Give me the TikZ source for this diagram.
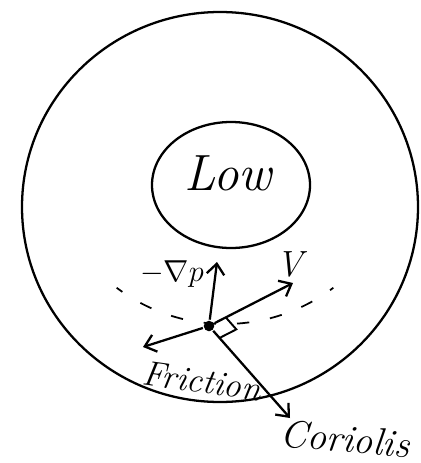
\documentclass[tikz,border=0pt]{standalone}
\usetikzlibrary{calc,arrows.meta}

\begin{document}
\begin{tikzpicture}[
    x=0.02cm, y=-0.02cm,
    line width=1.3pt,
    force/.style={-{Straight Barb[length=6pt,width=10pt]}}, % hand drawn heads
    lab/.style={font=\huge\itshape, inner sep=1pt}
]
\useasboundingbox (0,0) rectangle (420,463);

% outer circulation and the low
\draw (220,207) ellipse [x radius=198, y radius=195];
\draw (231,185) ellipse [x radius=79, y radius=63];
\node[lab, font=\fontsize{29}{32}\selectfont\itshape] (low) at (228,173) {Low};

% isobar through the parcel
\draw[line width=1pt, dash pattern=on 7pt off 12pt, dash phase=3pt]
    (225,144) ++(127:180) arc [start angle=127, end angle=53, radius=180];

% parcel and the forces on it
\node[circle, fill, inner sep=0pt, minimum size=6pt] (parcel) at (209,326) {};
\coordinate (pgrad) at (217,262);
\coordinate (vel)   at (293,283);
\coordinate (fric)  at (143,347);
\coordinate (cor)   at (290,418);

\draw[force] (parcel) -- (pgrad);
\draw[force] (parcel) -- (vel);
\draw[force] (parcel) -- (fric);
\draw[force] (parcel) -- (cor);

% right angle between V and Coriolis
\draw[line width=1.1pt]
    ($(parcel)!0.2!(vel)$) -- ($($(parcel)!0.2!(vel)$)!1!($(parcel)!0.13!(cor)$) + ($(parcel)!0.2!(vel)$) - (parcel)$)
    -- ($(parcel)!0.13!(cor)$);

\node[lab, font=\LARGE] (pglab)  at (172,274) {$-\nabla p$};
\node[lab] (vlab)   at (290,264) {V};
\node[lab, font=\fontsize{20}{22}\selectfont\itshape, rotate=-8] (friclab) at (202,381) {Friction};
\node[lab, font=\fontsize{22}{24}\selectfont\itshape, rotate=-5] (corlab)  at (345,439) {Coriolis};
\end{tikzpicture}
\end{document}
